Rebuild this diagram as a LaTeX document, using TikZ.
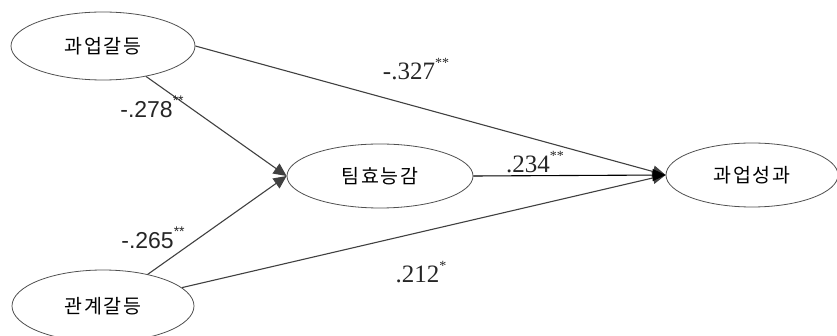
\documentclass[tikz,border=0pt]{standalone}
\usepackage{fontspec}
\setmainfont{Liberation Serif}
\newfontfamily\kor[LetterSpace=8]{Noto Sans CJK KR}
\newfontfamily\numsans{Liberation Sans}
\usetikzlibrary{shapes.geometric,arrows.meta}
\definecolor{linegray}{HTML}{404040}
\definecolor{edgegray}{HTML}{505050}
\tikzset{
  var/.style={ellipse, draw=edgegray, line width=0.8pt, inner sep=0pt, font=\kor\fontsize{19.5}{22}\selectfont},
  path/.style={draw=linegray, line width=1.1pt},
  arr/.style={path, -{Triangle[length=13pt,width=12pt]}},
  coef/.style={inner sep=0pt, font=\fontsize{25}{28}\selectfont, text=black!85},
  coefs/.style={coef, font=\numsans\fontsize{23}{26}\selectfont},
}
\newcommand{\sig}[1]{\raisebox{0.5em}{\fontsize{14}{14}\selectfont #1}}
\begin{document}
\begin{tikzpicture}[x=1pt,y=-1pt]
\useasboundingbox (0,0) rectangle (837,336);
\node[var, minimum width=184pt, minimum height=68pt] (a) at (103,46) {과업갈등};
\node[var, minimum width=182pt, minimum height=72pt] (r) at (103,306) {관계갈등};
\node[var, minimum width=186pt, minimum height=64pt] (m) at (380,176) {팀효능감};
\node[var, minimum width=172pt, minimum height=64pt] (o) at (752,175) {과업성과};
\draw[arr] (a) -- (m.west);
\draw[arr] (r) -- (m.west);
\draw[arr] (a.east) -- (o.west);
\draw[arr] (r) -- (o.west);
\draw[arr, draw=black] (m.east) -- (o.west);
\node[coefs] (l1) at (152,107) {-.278\sig{**}};
\node[coefs] (l2) at (153,238) {-.265\sig{**}};
\node[coef] (l3) at (416,69) {-.327\sig{**}};
\node[coef] (l4) at (535,162) {.234\sig{**}};
\node[coef] (l5) at (421,272) {.212\sig{*}};
\end{tikzpicture}
\end{document}
